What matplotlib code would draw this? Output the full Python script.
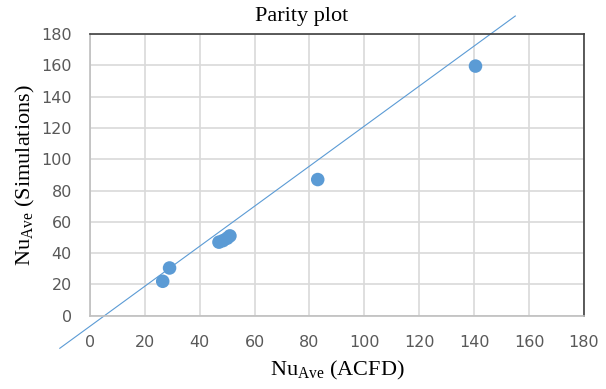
import matplotlib.pyplot as plt

acfd = [26.5, 29, 47, 48.5, 50, 51, 83, 140.5]
sim = [22, 30.5, 47, 48, 49.5, 51, 87, 159.5]

# drawn trend line (end points)
line_x = [-11, 155]
line_y = [-20.8, 191.5]

ticks = list(range(0, 181, 20))

serif = 'Liberation Serif'
plt.rcParams['mathtext.fontset'] = 'custom'
plt.rcParams['mathtext.rm'] = serif

fig = plt.figure(figsize=(6.06, 3.89), dpi=100)
ax = fig.add_axes([0.1485, 0.1884, 0.815, 0.7242])

ax.plot(line_x, line_y, color='#5B9BD5', lw=0.8, clip_on=False, zorder=2)
ax.scatter(acfd, sim, s=95, color='#5B9BD5', edgecolors='none', zorder=3, clip_on=False)

ax.set_xlim(0, 180)
ax.set_ylim(0, 180)
ax.set_xticks(ticks)
ax.set_yticks(ticks)
ax.grid(True, color='#D9D9D9', lw=1.2)
ax.set_axisbelow(True)
ax.tick_params(length=0, labelsize=11.5, labelcolor='#595959')
ax.tick_params(axis='x', pad=14)
ax.tick_params(axis='y', pad=13)

for s in ['left', 'bottom']:
    ax.spines[s].set_color('#BFBFBF')
    ax.spines[s].set_linewidth(1.2)
for s in ['top', 'right']:
    ax.spines[s].set_color('#404040')
    ax.spines[s].set_linewidth(1.2)

fig.text(0.497, 0.958, 'Parity plot', fontsize=16, family=serif, ha='center', va='center')
ax.set_xlabel(r'Nu$_{\mathregular{Ave}}$ (ACFD)', fontsize=16, family=serif, labelpad=6)
ax.set_ylabel(r'Nu$_{\mathregular{Ave}}$ (Simulations)', fontsize=16, family=serif, labelpad=3)

fig.savefig('out.png', dpi=100)
